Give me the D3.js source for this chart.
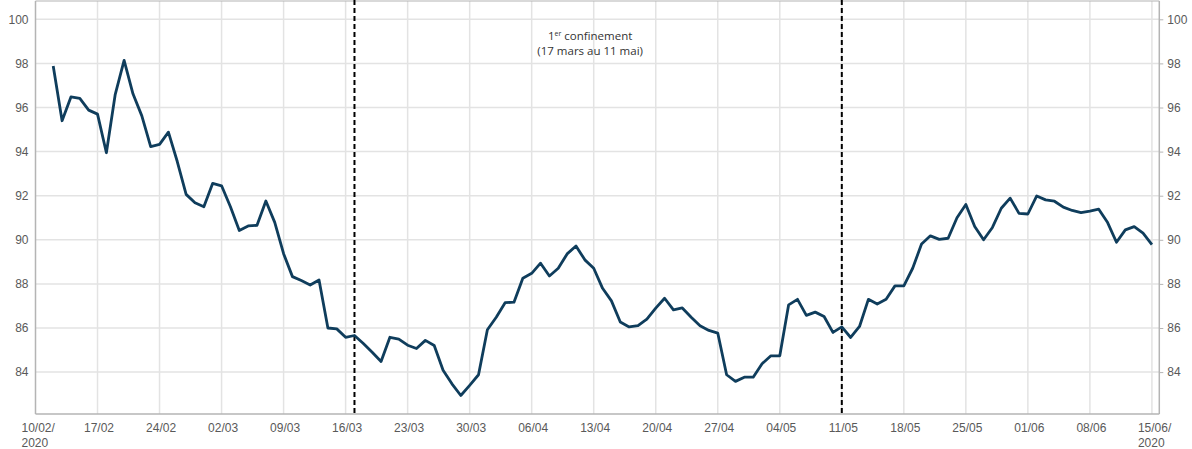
<!DOCTYPE html>
<html>
<head>
<meta charset="utf-8">
<script src="https://cdn.jsdelivr.net/npm/d3@7"></script>
<style>
  html, body { margin: 0; padding: 0; background: #ffffff; }
  svg { display: block; font-family: "Open Sans", "Noto Sans", sans-serif; }
</style>
</head>
<body>
<svg id="chart" width="1192" height="449"></svg>
<script>
// ---- Data ----
const startDate = "2020-02-12";
const values = [
  97.88, 95.40, 96.48, 96.41, 95.88, 95.70, 93.95, 96.60, 98.14, 96.62,
  95.62, 94.23, 94.33, 94.88, 93.55, 92.06, 91.68, 91.50, 92.56, 92.45,
  91.50, 90.42, 90.63, 90.66, 91.76, 90.79, 89.37, 88.33, 88.15, 87.95,
  88.18, 86.00, 85.96, 85.58, 85.66, 85.30, 84.90, 84.48, 85.58, 85.50,
  85.22, 85.07, 85.44, 85.21, 84.08, 83.47, 82.94, 83.40, 83.88, 85.92,
  86.49, 87.15, 87.17, 88.26, 88.48, 88.94, 88.36, 88.71, 89.36, 89.72,
  89.09, 88.71, 87.80, 87.23, 86.27, 86.05, 86.11, 86.40, 86.90, 87.35,
  86.82, 86.91, 86.49, 86.10, 85.89, 85.77, 83.88, 83.58, 83.77, 83.77,
  84.38, 84.74, 84.74, 87.05, 87.30, 86.57, 86.72, 86.52, 85.80, 86.05,
  85.57, 86.07, 87.30, 87.09, 87.30, 87.91, 87.91, 88.71, 89.81, 90.18,
  90.02, 90.07, 91.00, 91.60, 90.60, 90.00, 90.56, 91.43, 91.89, 91.20,
  91.17, 91.99, 91.81, 91.75, 91.48, 91.33, 91.23, 91.30, 91.39, 90.78,
  89.89, 90.45, 90.60, 90.30, 89.78
];
const tickDates = ["2020-02-10","2020-02-17","2020-02-24","2020-03-02","2020-03-09",
  "2020-03-16","2020-03-23","2020-03-30","2020-04-06","2020-04-13","2020-04-20",
  "2020-04-27","2020-05-04","2020-05-11","2020-05-18","2020-05-25","2020-06-01",
  "2020-06-08","2020-06-15"];
const tickLabels = ["10/02/|2020","17/02","24/02","02/03","09/03","16/03","23/03",
  "30/03","06/04","13/04","20/04","27/04","04/05","11/05","18/05","25/05","01/06",
  "08/06","15/06/|2020"];
const yTicks = [84, 86, 88, 90, 92, 94, 96, 98, 100];
const lockdownDates = ["2020-03-17", "2020-05-11"];
const annotationLines = ["1|er| confinement", "(17 mars au 11 mai)"];

(function () {
const parse = d3.timeParse("%Y-%m-%d");
const start = parse(startDate);
const data = values.map((v, i) => ({ date: d3.timeDay.offset(start, i), value: v }));

const svg = d3.select("#chart");
const mLeft = 35.5, mRight = 1159.3, mTop = 1, mBottom = 414;

const x = d3.scaleTime()
  .domain([parse("2020-02-10"), new Date(2020, 5, 15, 20)])
  .range([mLeft, mRight]);
const y = d3.scaleLinear()
  .domain([82.1, 100.83])
  .range([mBottom, mTop]);

const gridColor = "#e3e3e3";
const axisColor = "#b4b4b4";
const textColor = "#595959";

// Horizontal gridlines
svg.append("g").selectAll("line").data(yTicks).join("line")
  .attr("x1", mLeft).attr("x2", mRight)
  .attr("y1", d => y(d)).attr("y2", d => y(d))
  .attr("stroke", gridColor).attr("stroke-width", 1.5);

// Vertical gridlines
svg.append("g").selectAll("line").data(tickDates.slice(1)).join("line")
  .attr("x1", d => x(parse(d))).attr("x2", d => x(parse(d)))
  .attr("y1", mTop).attr("y2", mBottom)
  .attr("stroke", gridColor).attr("stroke-width", 1.5);

// Top border
svg.append("line").attr("x1", mLeft).attr("x2", mRight).attr("y1", mTop).attr("y2", mTop)
  .attr("stroke", axisColor).attr("stroke-width", 1.2);

// Left axis
const gL = svg.append("g").attr("transform", `translate(${mLeft},0)`)
  .call(d3.axisLeft(y).tickValues(yTicks).tickSize(0).tickPadding(7));
gL.select(".domain").attr("stroke", axisColor).attr("stroke-width", 1.5).attr("d", `M0,${mTop}V${mBottom}`);
gL.selectAll("text").attr("fill", textColor).style("font-size", "12px");

// Right axis
const gR = svg.append("g").attr("transform", `translate(${mRight},0)`)
  .call(d3.axisRight(y).tickValues(yTicks).tickSize(4).tickPadding(4));
gR.select(".domain").attr("stroke", axisColor).attr("stroke-width", 1.5).attr("d", `M0,${mTop}V${mBottom}`);
gR.selectAll(".tick line").attr("stroke", axisColor);
gR.selectAll("text").attr("fill", textColor).style("font-size", "12px");

// Bottom axis
const gB = svg.append("g").attr("transform", `translate(0,${mBottom})`)
  .call(d3.axisBottom(x).tickValues(tickDates.map(parse)).tickSize(0).tickFormat(() => ""));
gB.select(".domain").attr("stroke", axisColor).attr("stroke-width", 1.5).attr("d", `M${mLeft},0H${mRight}`);
gB.selectAll(".tick").each(function (d, i) {
  const parts = tickLabels[i].split("|");
  const t = d3.select(this).append("text")
    .attr("fill", textColor).style("font-size", "12px");
  if (parts.length > 1) {
    t.attr("text-anchor", "start");
    parts.forEach((p, k) => t.append("tspan").attr("x", -14.5).attr("y", 18 + k * 15).text(p));
  } else {
    t.attr("text-anchor", "middle").attr("x", 1).attr("y", 18).text(parts[0]);
  }
});

// Lockdown dashed lines
svg.append("g").selectAll("line").data(lockdownDates).join("line")
  .attr("x1", d => x(parse(d))).attr("x2", d => x(parse(d)))
  .attr("y1", 0).attr("y2", mBottom)
  .attr("stroke", "#000").attr("stroke-width", 2).attr("stroke-dasharray", "5,3");

// Annotation
const annX = (x(parse(lockdownDates[0])) + x(parse(lockdownDates[1]))) / 2 - 8;
const ann = svg.append("text").attr("text-anchor", "middle").attr("fill", "#333")
  .style("font-size", "11.5px");
const p0 = annotationLines[0].split("|");
const l1 = ann.append("tspan").attr("x", annX).attr("y", 40);
l1.append("tspan").text(p0[0]);
l1.append("tspan").attr("dy", -4).style("font-size", "7px").text(p0[1]);
l1.append("tspan").attr("dy", 4).text(p0[2]);
ann.append("tspan").attr("x", annX).attr("y", 55).text(annotationLines[1]);

// Line
svg.append("path").datum(data)
  .attr("fill", "none").attr("stroke", "#0f3d5c").attr("stroke-width", 2.8)
  .attr("stroke-linejoin", "round")
  .attr("d", d3.line().x(d => x(d.date)).y(d => y(d.value)));
})();
</script>
</body>
</html>
